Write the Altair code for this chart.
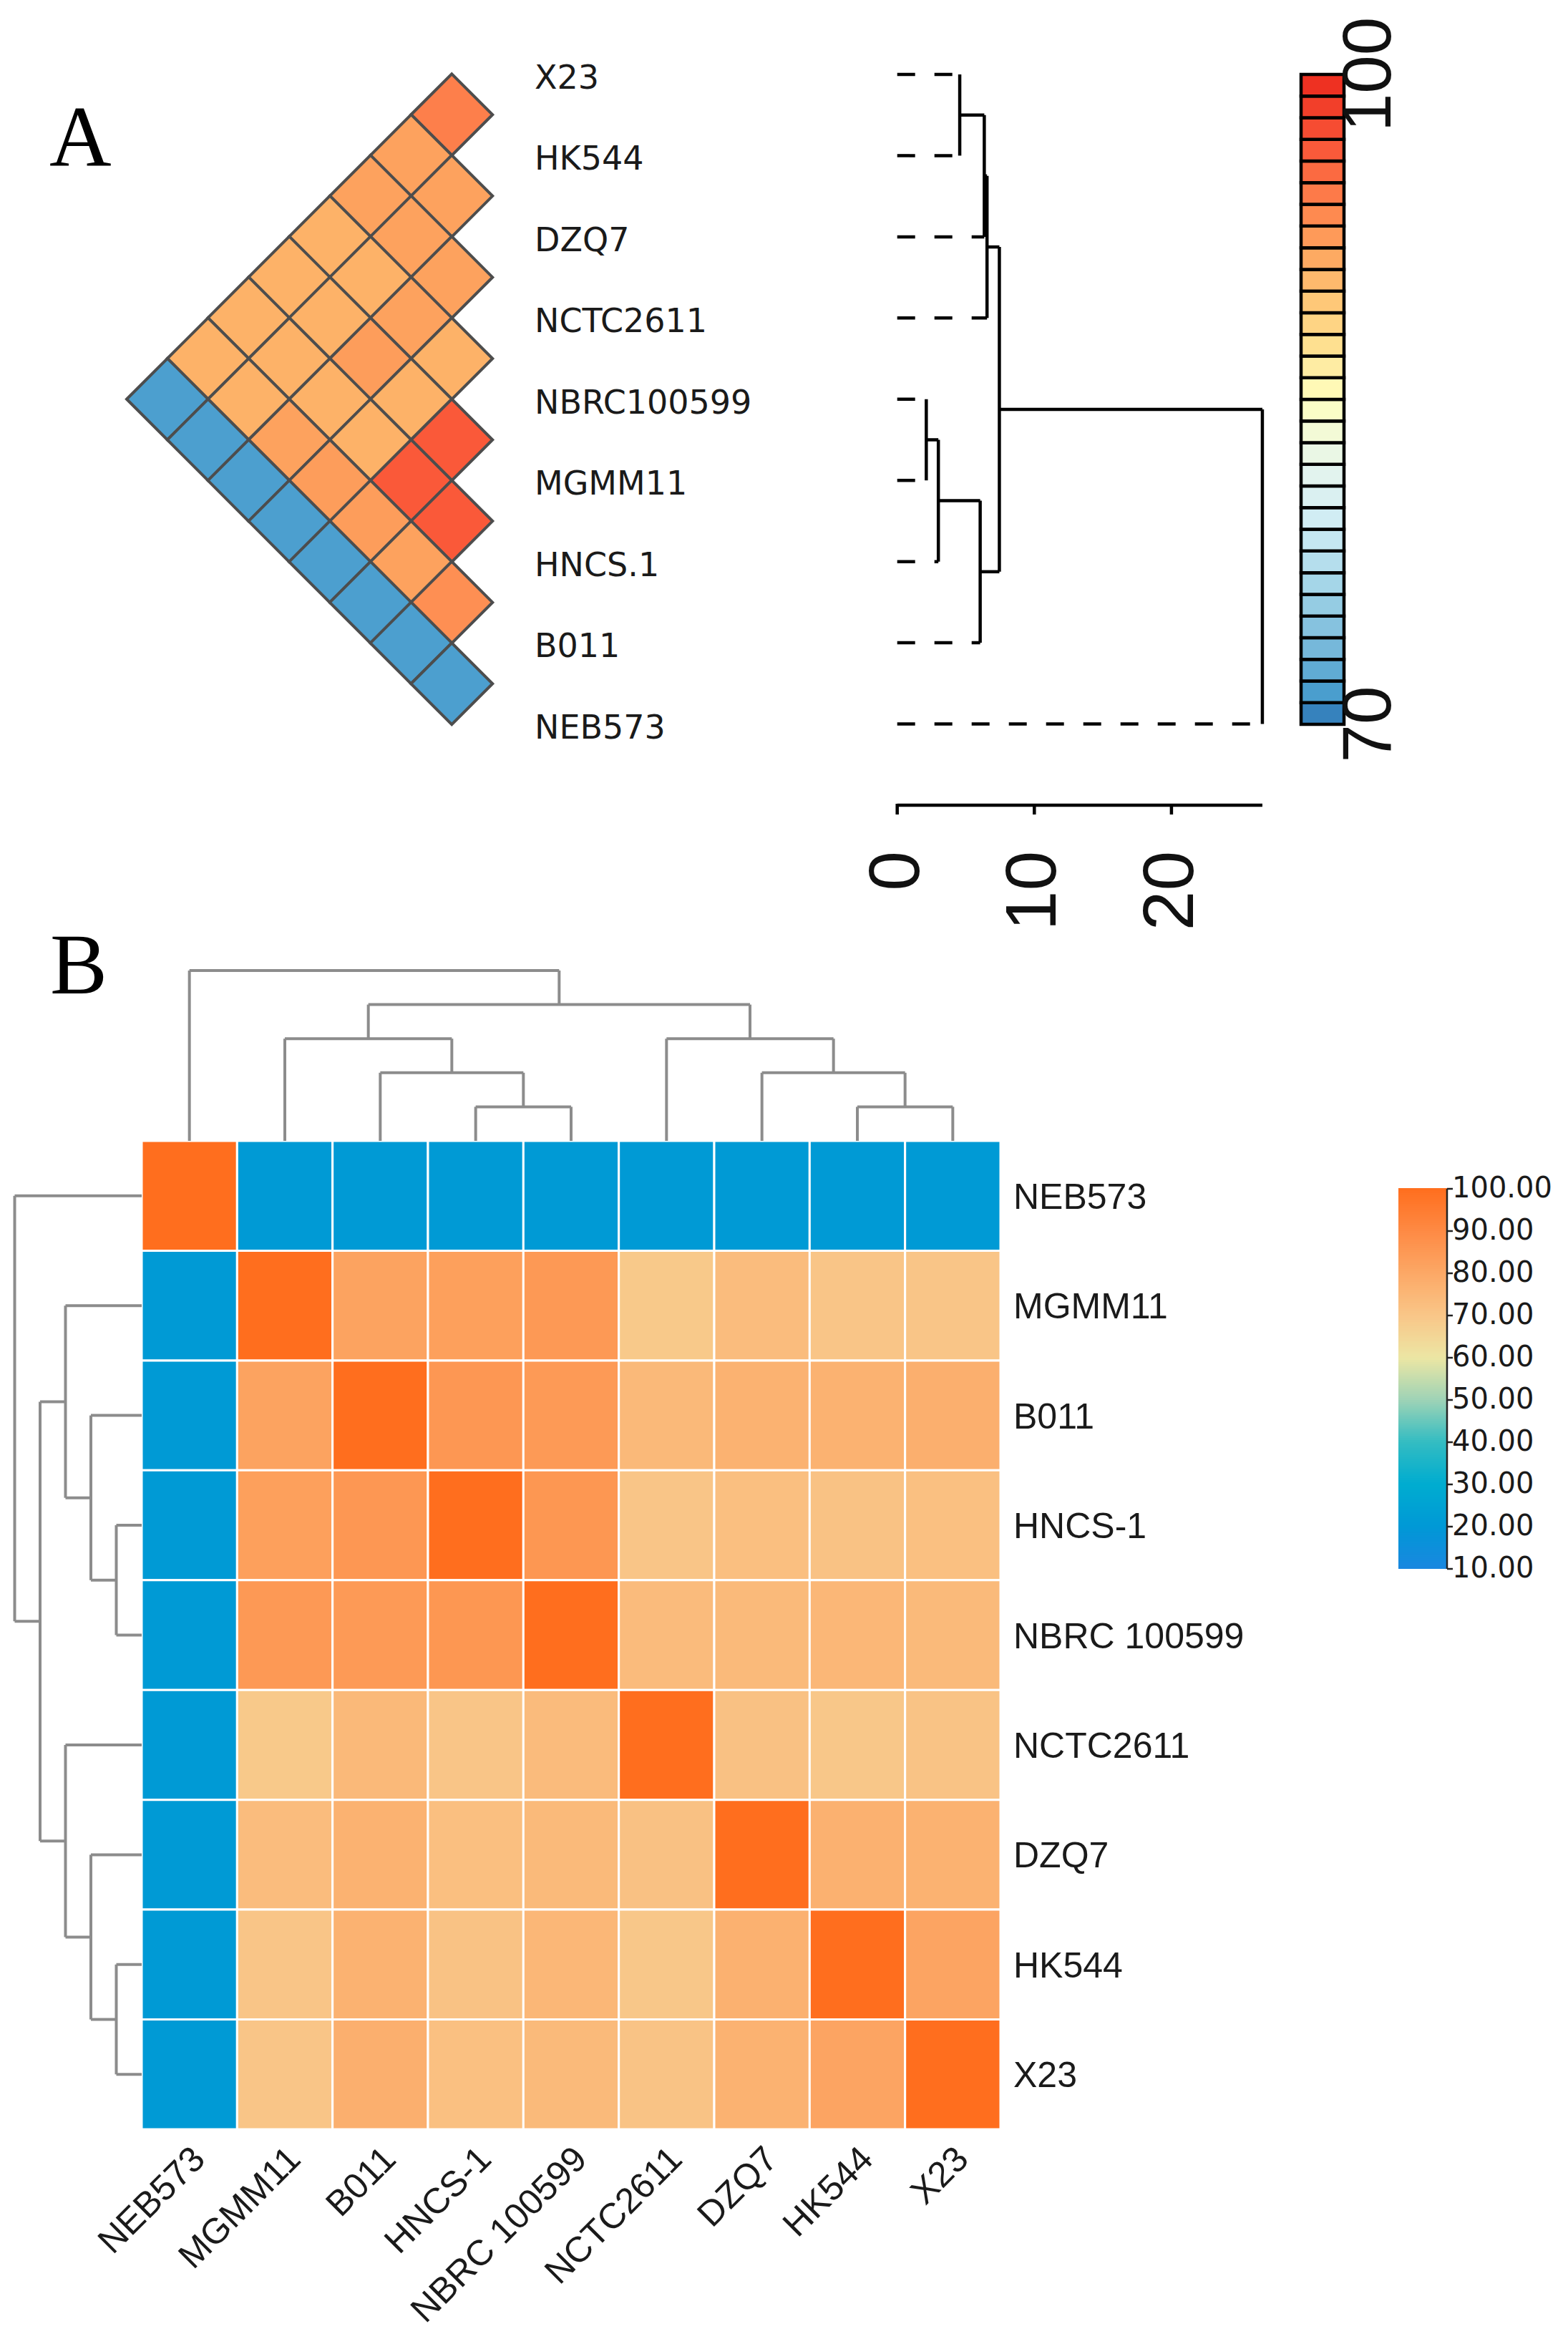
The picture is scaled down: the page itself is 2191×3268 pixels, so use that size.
import altair as alt
import pandas as pd
import numpy as np

# ---------------- data ----------------
A_LEAVES = ["X23", "HK544", "DZQ7", "NCTC2611", "NBRC100599", "MGMM11", "HNCS.1", "B011", "NEB573"]
# upper triangle: row i against leaves i+1 .. 8
A_TRI = [
    [94.2, 92.0, 92.0, 91.0, 91.0, 91.0, 91.0, 71.6],
    [92.0, 92.0, 91.0, 91.0, 91.0, 91.0, 71.6],
    [92.0, 92.0, 92.3, 91.0, 92.0, 71.6],
    [91.0, 91.0, 91.0, 92.3, 71.6],
    [96.6, 96.6, 92.3, 71.6],
    [96.6, 92.0, 71.6],
    [93.2, 71.6],
    [71.6],
]
# merges: (child, child, height); str = leaf, int = earlier merge
A_MERGES = [
    ("NBRC100599", "MGMM11", 2.12),
    (0, "HNCS.1", 3.0),
    ("X23", "HK544", 4.56),
    (1, "B011", 6.05),
    (2, "DZQ7", 6.35),
    (4, "NCTC2611", 6.55),
    (5, 3, 7.45),
    (6, "NEB573", 26.63),
]
A_TICKS = [0, 10, 20]
A_CBAR_LABELS = [70, 100]

B_LEAVES = ["NEB573", "MGMM11", "B011", "HNCS-1", "NBRC 100599", "NCTC2611", "DZQ7", "HK544", "X23"]
B_MATRIX = [
    [100, 21, 21, 21, 21, 21, 21, 21, 21],
    [21, 100, 81.7, 82.8, 85.0, 69.2, 73.2, 70.2, 70.2],
    [21, 81.7, 100, 85.7, 84.6, 74.3, 76.7, 76.7, 77.6],
    [21, 82.8, 85.7, 100, 85.8, 70.3, 72.3, 71.3, 72.0],
    [21, 85.0, 84.6, 85.8, 100, 73.6, 74.0, 75.0, 74.0],
    [21, 69.2, 74.3, 70.3, 73.6, 100, 71.6, 69.6, 71.0],
    [21, 73.2, 76.7, 72.3, 74.0, 71.6, 100, 77.0, 76.7],
    [21, 70.2, 76.7, 71.3, 75.0, 69.6, 77.0, 100, 81.3],
    [21, 70.2, 77.6, 72.0, 74.0, 71.0, 76.7, 81.3, 100],
]
B_MERGES = [
    ("HNCS-1", "NBRC 100599", 1),
    ("HK544", "X23", 1),
    ("B011", 0, 2),
    ("DZQ7", 1, 2),
    ("MGMM11", 2, 3),
    ("NCTC2611", 3, 3),
    (4, 5, 4),
    ("NEB573", 6, 5),
]
B_TICKS = [10, 20, 30, 40, 50, 60, 70, 80, 90, 100]

A_COLOR_DOMAIN = [70, 71.5, 73.5, 76.5, 79, 82, 85, 87.5, 89.5, 91.5, 93.5, 96.5, 100]
A_COLOR_RANGE = ["#2c74b4", "#4a9ece", "#76b8da", "#a5d6e8", "#cdebf5", "#e6f5ec", "#ffffbf",
                 "#fee090", "#fec878", "#fdaa62", "#fe8a50", "#fa5a3a", "#ec2a1e"]
B_COLOR_DOMAIN = [10, 20, 30, 40, 50, 60, 70, 80, 90, 100]
B_COLOR_RANGE = ["#1a87e0", "#0098d6", "#00acd0", "#33bcc2", "#9ed3b6", "#ece6a4",
                 "#f9c688", "#fca866", "#fe8a44", "#ff6e1e"]

# ---------------- helpers ----------------
W, H = 2175, 3252


def sc(domain, rng):
    return alt.Scale(domain=domain, range=rng, nice=False, zero=False)


def seg_table(leaves, merges):
    pos = {n: float(k) for k, n in enumerate(leaves)}
    hgt = {n: 0.0 for n in leaves}
    rows = []
    for m, (a, b, h) in enumerate(merges):
        pa, pb = pos[a], pos[b]
        rows.append(dict(h1=h, h2=h, p1=pa, p2=pb, leaf=False))
        for c in (a, b):
            rows.append(dict(h1=hgt[c], h2=h, p1=pos[c], p2=pos[c], leaf=isinstance(c, str)))
        pos[m] = (pa + pb) / 2
        hgt[m] = h
    return pd.DataFrame(rows)


A_SCALE = alt.Scale(domain=A_COLOR_DOMAIN, range=A_COLOR_RANGE, interpolate="rgb")
B_SCALE = alt.Scale(domain=B_COLOR_DOMAIN, range=B_COLOR_RANGE, interpolate="rgb")

ROW_A = [95.5, 1004]
layers = []

# ---------------- panel A: triangle ----------------
tri = pd.DataFrame([dict(i=i, j=j, v=A_TRI[i][j - i - 1]) for i in range(8) for j in range(i + 1, 9)])
layers.append(
    alt.Chart(tri).transform_calculate(diff="datum.j - datum.i", pos="(datum.i + datum.j) / 2")
    .mark_point(shape="M-1,0L0,-1L1,0L0,1Z", filled=True, size=114 ** 2, stroke="#4d4d4d",
                strokeWidth=4, opacity=1)
    .encode(x=alt.X("diff:Q", scale=sc([0, 8], [680, 226]), axis=None),
            y=alt.Y("pos:Q", scale=sc([0, 8], ROW_A), axis=None),
            fill=alt.Fill("v:Q", scale=A_SCALE, legend=None))
)
labA = pd.DataFrame({"name": A_LEAVES, "k": list(range(9))})
layers.append(
    alt.Chart(labA).mark_text(align="left", baseline="middle", font="DejaVu Sans", fontSize=46,
                              color="#1a1a1a", dy=6)
    .encode(x=alt.value(739), y=alt.Y("k:Q", scale=sc([0, 8], ROW_A), axis=None), text="name:N")
)

# ---------------- panel A: dendrogram ----------------
segA = seg_table(A_LEAVES, A_MERGES)
XA = sc([0, 30], [1245.7, 1245.7 + 30 * 19.16])
for dashed, df in ((False, segA[~segA.leaf]), (True, segA[segA.leaf])):
    kw = dict(color="black", strokeWidth=4.5, strokeCap="butt")
    if dashed:
        kw["strokeDash"] = [25, 27]
    layers.append(
        alt.Chart(df.drop(columns="leaf")).mark_rule(**kw)
        .encode(x=alt.X("h1:Q", scale=XA, axis=None), x2="h2:Q",
                y=alt.Y("p1:Q", scale=sc([0, 8], [96, 1003.5]), axis=None), y2="p2:Q")
    )
axline = pd.DataFrame({"a": [0.0], "b": [max(m[2] for m in A_MERGES)]})
layers.append(
    alt.Chart(axline).mark_rule(color="black", strokeWidth=4.5)
    .encode(x=alt.X("a:Q", scale=XA, axis=None), x2="b:Q", y=alt.value(1117))
)
ticksA = pd.DataFrame({"t": A_TICKS, "lab": [str(t) for t in A_TICKS]})
layers.append(
    alt.Chart(ticksA).mark_rule(color="black", strokeWidth=4.5)
    .encode(x=alt.X("t:Q", scale=XA, axis=None), y=alt.value(1115), y2=alt.value(1130))
)
layers.append(
    alt.Chart(ticksA).mark_text(angle=270, align="right", baseline="middle", font="Liberation Sans",
                                fontSize=100, color="#111")
    .encode(x=alt.X("t:Q", scale=XA, axis=None), y=alt.value(1181), text="lab:N")
)

# ---------------- panel A: colour bar ----------------
blocks = pd.DataFrame({"lo": np.arange(70, 100)})
blocks["hi"] = blocks.lo + 1
blocks["mid"] = blocks.lo + 0.5
YCB = sc([70, 100], [1004, 96])
layers.append(
    alt.Chart(blocks).mark_rect(stroke="black", strokeWidth=4.5)
    .encode(y=alt.Y("lo:Q", scale=YCB, axis=None), y2="hi:Q", x=alt.value(1810), x2=alt.value(1870),
            fill=alt.Fill("mid:Q", scale=A_SCALE, legend=None))
)
cbl = pd.DataFrame({"v": A_CBAR_LABELS, "lab": [str(v) for v in A_CBAR_LABELS]})
layers.append(
    alt.Chart(cbl).mark_text(angle=270, align="center", baseline="middle", font="Liberation Sans",
                             fontSize=96, color="#111")
    .encode(y=alt.Y("v:Q", scale=YCB, axis=None), x=alt.value(1906), text="lab:N")
)

# ---------------- panel B: heatmap ----------------
XB = sc([-0.5, 8.5], [190, 1390])
YB = sc([-0.5, 8.5], [1586, 2967])
hm = pd.DataFrame([dict(r=r, c=c, v=B_MATRIX[r][c]) for r in range(9) for c in range(9)])
layers.append(
    alt.Chart(hm).transform_calculate(x1="datum.c - 0.5", x2="datum.c + 0.5",
                                      y1="datum.r - 0.5", y2="datum.r + 0.5")
    .mark_rect(stroke="white", strokeWidth=3)
    .encode(x=alt.X("x1:Q", scale=XB, axis=None), x2="x2:Q",
            y=alt.Y("y1:Q", scale=YB, axis=None), y2="y2:Q",
            fill=alt.Fill("v:Q", scale=B_SCALE, legend=None))
)
labB = pd.DataFrame({"name": B_LEAVES, "k": list(range(9))})
layers.append(
    alt.Chart(labB).mark_text(align="left", baseline="middle", font="Liberation Sans", fontSize=50,
                              color="#1a1a1a", dy=3)
    .encode(x=alt.value(1408), y=alt.Y("k:Q", scale=YB, axis=None), text="name:N")
)
layers.append(
    alt.Chart(labB).mark_text(align="right", baseline="middle", font="Liberation Sans", fontSize=50,
                              color="#1a1a1a", angle=315)
    .encode(x=alt.X("k:Q", scale=sc([-0.5, 8.5], [204, 1404]), axis=None), y=alt.value(3001),
            text="name:N")
)

# ---------------- panel B: dendrograms ----------------
segB = seg_table(B_LEAVES, B_MERGES).drop(columns="leaf")
layers.append(
    alt.Chart(segB).mark_rule(color="#8c8c8c", strokeWidth=4)
    .encode(x=alt.X("p1:Q", scale=XB, axis=None), x2="p2:Q",
            y=alt.Y("h1:Q", scale=sc([0, 5], [1586, 1348]), axis=None), y2="h2:Q")
)
layers.append(
    alt.Chart(segB).mark_rule(color="#8c8c8c", strokeWidth=4)
    .encode(y=alt.Y("p1:Q", scale=YB, axis=None), y2="p2:Q",
            x=alt.X("h1:Q", scale=sc([0, 5], [190, 12.5]), axis=None), x2="h2:Q")
)

# ---------------- panel B: colour bar ----------------
grad = pd.DataFrame({"lo": np.arange(10, 100, 0.5)})
grad["hi"] = grad.lo + 0.65
grad["mid"] = grad.lo + 0.25
YBC = sc([10, 100], [2184, 1653])
layers.append(
    alt.Chart(grad).mark_rect()
    .encode(y=alt.Y("lo:Q", scale=YBC, axis=None), y2="hi:Q", x=alt.value(1946), x2=alt.value(2014),
            fill=alt.Fill("mid:Q", scale=B_SCALE, legend=None))
)
bt = pd.DataFrame({"t": B_TICKS, "lab": [f"{t:.2f}" for t in B_TICKS]})
layers.append(
    alt.Chart(pd.DataFrame({"a": [B_TICKS[0]], "b": [B_TICKS[-1]]})).mark_rule(color="#222", strokeWidth=2.5)
    .encode(y=alt.Y("a:Q", scale=YBC, axis=None), y2="b:Q", x=alt.value(2014))
)
layers.append(
    alt.Chart(bt).mark_rule(color="#222", strokeWidth=2.5)
    .encode(y=alt.Y("t:Q", scale=YBC, axis=None), x=alt.value(2014), x2=alt.value(2022))
)
layers.append(
    alt.Chart(bt).mark_text(align="left", baseline="middle", font="DejaVu Sans", fontSize=40, color="#1a1a1a")
    .encode(y=alt.Y("t:Q", scale=YBC, axis=None), x=alt.value(2021), text="lab:N")
)

# ---------------- panel letters ----------------
for letter, xx, yy in (("A", 61, 224), ("B", 62, 1380)):
    layers.append(
        alt.Chart(pd.DataFrame({"t": [letter]})).mark_text(align="left", baseline="alphabetic",
                                                           font="Liberation Serif", fontSize=120, color="black")
        .encode(x=alt.value(xx), y=alt.value(yy), text="t:N")
    )

chart = (
    alt.layer(*layers)
    .resolve_scale(x="independent", y="independent", fill="independent")
    .properties(width=W, height=H, padding=0, autosize="none", background="white")
    .configure_view(stroke=None)
)
chart.save("out.html", embed_options={"renderer": "svg", "actions": False})
